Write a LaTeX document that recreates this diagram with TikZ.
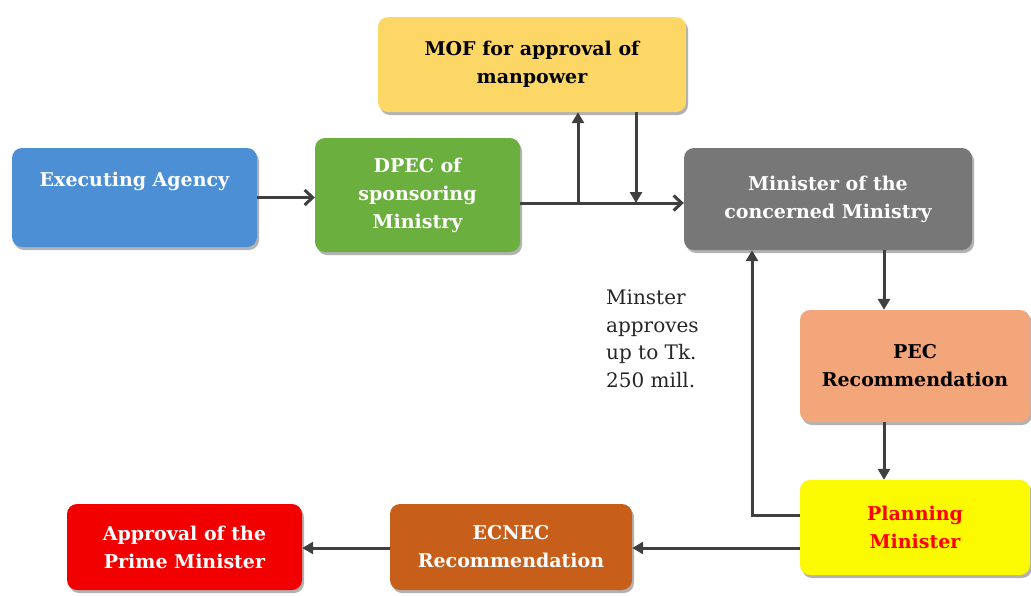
\documentclass[tikz,border=0pt]{standalone}
\usepackage{fontspec}
\setmainfont{DejaVu Serif}
\usetikzlibrary{shadows,arrows.meta}
\definecolor{execc}{HTML}{4C8FD5}
\definecolor{dpecc}{HTML}{6BAF3F}
\definecolor{mofc}{HTML}{FCD766}
\definecolor{minc}{HTML}{777777}
\definecolor{pecc}{HTML}{F2A679}
\definecolor{planc}{HTML}{FCFA00}
\definecolor{ecnecc}{HTML}{C75F1A}
\definecolor{pmc}{HTML}{F20000}
\definecolor{arrowc}{HTML}{3F3F3F}
\begin{document}
\begin{tikzpicture}[x=1pt,y=-1pt,
  box/.style={rounded corners=10pt, draw=none, align=center,
    font=\bfseries\fontsize{19}{28}\selectfont,
    drop shadow={shadow xshift=2pt, shadow yshift=-3pt, opacity=0.3, fill=black}},
  flow/.style={draw=arrowc, line width=3pt, -{Triangle[length=11pt,width=12pt]}},
  barb/.style={draw=arrowc, line width=3pt, -{Straight Barb[length=8pt,width=15pt,line width=3pt]}}]
\useasboundingbox (0,0) rectangle (1031,595);

% process boxes
\node[box, fill=execc, text=white, minimum width=245pt, minimum height=99pt]
  (exec) at (134.5,197.5) {Executing Agency\\\strut};
\node[box, fill=dpecc, text=white, minimum width=205pt, minimum height=114pt]
  (dpec) at (417.5,195) {DPEC of\\sponsoring\\Ministry};
\node[box, fill=mofc, text=black, minimum width=308pt, minimum height=95pt]
  (mof) at (532,64.5) {MOF for approval of\\manpower};
\node[box, fill=minc, text=white, minimum width=288pt, minimum height=102pt]
  (mincon) at (828,199) {Minister of the\\concerned Ministry};
\node[box, fill=pecc, text=black, minimum width=230pt, minimum height=112pt]
  (pec) at (915,366) {PEC\\Recommendation};
\node[box, fill=planc, text=red, minimum width=230pt, minimum height=95pt]
  (plan) at (915,527.5) {Planning\\Minister};
\node[box, fill=ecnecc, text=white, minimum width=242pt, minimum height=86pt]
  (ecnec) at (511,547) {ECNEC\\Recommendation};
\node[box, fill=pmc, text=white, minimum width=235pt, minimum height=86pt]
  (pm) at (184.5,547) {Approval of the\\Prime Minister};

% note beside the return path
\node[anchor=north west, align=left, inner sep=0pt, text=black!85,
  font=\fontsize{20}{27.5}\selectfont] (note) at (606,290)
  {Minster\\approves\\up to Tk.\\250 mill.};

% routing points
\coordinate (split) at (578,203);
\coordinate (merge) at (636,203);
\coordinate (vx) at (884,0);
\coordinate (back) at (752,515);
\coordinate (low) at (0,548);

% connectors
\draw[barb] (exec.east) -- (exec.east -| dpec.west);
\draw[barb] (dpec.east |- split) -- (mincon.west |- split);
\draw[flow] (split) -- (split |- mof.south);
\draw[flow] (mof.south -| merge) -- (merge);
\draw[flow] (mincon.south -| vx) -- (pec.north -| vx);
\draw[flow] (pec.south -| vx) -- (plan.north -| vx);
\draw[flow] (plan.west |- back) -- (back) -- (back |- mincon.south);
\draw[flow] (plan.west |- low) -- (ecnec.east |- low);
\draw[flow] (ecnec.west |- low) -- (pm.east |- low);
\end{tikzpicture}
\end{document}
